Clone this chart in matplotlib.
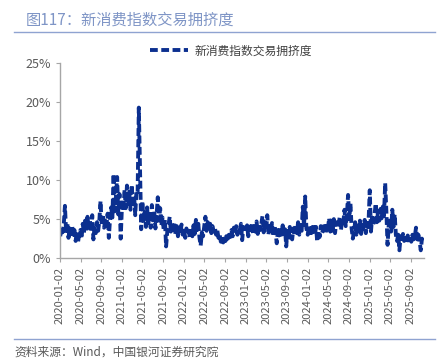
import matplotlib
matplotlib.use("Agg")
import matplotlib.pyplot as plt
from matplotlib.ticker import FuncFormatter
import pandas as pd

plt.rcParams["font.family"] = ["Noto Sans CJK SC", "DejaVu Sans"]

title = "图117：新消费指数交易拥挤度"
series_name = "新消费指数交易拥挤度"
source = "资料来源：Wind，中国银河证券研究院"

# weekly readings (%), per year; months grouped 4,4,5 weeks
v2020 = [2.8, 3.9, 3.3, 4.3,
         6.7, 3.2, 4.5, 2.6,
         3.8, 2.7, 4.2, 3.0, 3.6,
         2.2, 3.4, 2.0, 3.1,
         3.6, 2.5, 4.4, 3.2,
         4.8, 3.5, 5.3, 3.9, 4.9,
         3.4, 5.5, 2.4, 4.1,
         3.2, 4.6, 3.5, 4.8,
         7.3, 4.2, 5.6, 3.9, 4.8,
         4.1, 5.7, 2.6, 5.0,
         6.5, 5.2, 10.8, 6.0,
         7.8, 10.4, 5.6, 8.2, 2.5]
v2021 = [7.5, 6.0, 8.8, 6.4,
         9.3, 7.0, 8.5, 6.2,
         9.4, 6.5, 8.0, 5.5, 8.7,
         8.5, 19.3, 11.3, 3.7,
         7.3, 4.5, 6.2, 4.0,
         6.5, 4.2, 5.9, 3.9, 6.8,
         4.5, 6.0, 3.8, 5.5,
         7.8, 4.8, 6.4, 4.2,
         5.2, 3.6, 4.9, 1.5, 3.4,
         4.2, 5.3, 3.4, 4.6,
         3.2, 4.5, 3.0, 4.1,
         2.8, 3.9, 3.1, 4.3, 3.0]
v2022 = [3.5, 2.6, 3.8, 3.0,
         3.4, 2.5, 3.9, 2.8,
         4.2, 3.1, 4.9, 3.6, 4.4,
         2.6, 1.6, 3.3, 2.8,
         4.0, 5.3, 3.5, 4.6,
         3.6, 4.4, 3.2, 4.1, 3.4,
         3.9, 3.0, 3.6, 2.6,
         3.0, 2.1, 2.7, 2.0,
         2.6, 2.2, 3.2, 2.5, 3.3,
         2.7, 3.6, 2.8, 3.9,
         3.1, 4.1, 3.0, 3.8,
         3.6, 4.4, 2.3, 4.0, 3.4]
v2023 = [3.3, 4.2, 2.8, 4.0,
         3.2, 4.5, 3.0, 4.1,
         3.4, 4.7, 3.1, 4.3, 3.6,
         4.4, 5.4, 3.3, 4.6,
         3.5, 5.5, 3.0, 4.4,
         3.2, 4.5, 2.8, 4.2, 3.4,
         1.9, 3.6, 2.9, 4.0,
         3.0, 4.2, 3.1, 3.7,
         1.5, 3.5, 2.6, 4.0, 3.2,
         2.4, 3.8, 2.9, 4.3,
         3.2, 4.6, 3.0, 4.2,
         3.5, 6.6, 4.0, 7.9, 3.8]
v2024 = [3.0, 4.2, 2.8, 3.9,
         3.3, 4.4, 3.0, 4.0,
         2.1, 3.5, 2.7, 4.1, 3.2,
         3.6, 4.5, 3.1, 4.3,
         3.8, 5.1, 3.4, 4.8,
         3.5, 5.0, 3.2, 4.6, 3.9,
         4.3, 5.3, 3.6, 4.9,
         4.6, 6.2, 4.1, 5.5,
         8.1, 5.0, 7.0, 3.8, 2.5,
         3.5, 4.6, 3.0, 4.2,
         3.4, 4.8, 3.1, 4.3,
         3.8, 4.9, 3.2, 4.5, 3.6]
v2025 = [8.7, 3.4, 5.2, 4.3,
         5.5, 7.0, 4.6, 6.0,
         4.8, 6.3, 5.1, 6.6, 5.4,
         9.6, 6.0, 1.7, 4.3,
         5.2, 3.4, 6.2, 4.0,
         5.6, 3.0, 2.2, 3.0, 1.0,
         2.8, 2.0, 3.1, 2.2,
         2.6, 2.0, 2.9, 2.3,
         2.5, 2.1, 3.0, 2.4, 2.8,
         3.9, 2.4, 3.0, 2.2, 1.0,
         2.5, 2.0]

tick_labels = ["2020-01-02", "2020-05-02", "2020-09-02", "2021-01-02",
               "2021-05-02", "2021-09-02", "2022-01-02", "2022-05-02",
               "2022-09-02", "2023-01-02", "2023-05-02", "2023-09-02",
               "2024-01-02", "2024-05-02", "2024-09-02", "2025-01-02",
               "2025-05-02", "2025-09-02"]

years = {2020: v2020, 2021: v2021, 2022: v2022, 2023: v2023, 2024: v2024, 2025: v2025}
dates, vals = [], []
for yr, v in years.items():
    dates.extend(pd.date_range(f"{yr}-01-03", periods=len(v), freq="7D"))
    vals.extend(v)
vals = [x / 100 for x in vals]

fig = plt.figure(figsize=(4.48, 3.63), dpi=100)
ax = fig.add_axes([0.134, 0.289, 0.812, 0.537])

line_color = "#0b2f8f"
ax.plot(dates, vals, color=line_color, lw=2.8, ls=(0, (2.0, 0.9)),
        label=series_name)

ax.set_ylim(0, 0.25)
ax.set_yticks([0, 0.05, 0.10, 0.15, 0.20, 0.25])
ax.yaxis.set_major_formatter(FuncFormatter(lambda y, _: f"{y * 100:.0f}%"))
ticks = pd.to_datetime(tick_labels)
ax.set_xticks(ticks)
ax.set_xticklabels(tick_labels, rotation=90)
ax.set_xlim(pd.Timestamp("2020-01-02"), pd.Timestamp("2025-11-18"))

for s in ["top", "right"]:
    ax.spines[s].set_visible(False)
for s in ["left", "bottom"]:
    ax.spines[s].set_color("#a6a6a6")
    ax.spines[s].set_linewidth(1.0)
ax.tick_params(colors="#a6a6a6", length=3, width=0.8)
ax.tick_params(axis="y", labelcolor="#595959", labelsize=9)
ax.tick_params(axis="x", labelcolor="#595959", labelsize=8)

leg = ax.legend(loc="lower center", bbox_to_anchor=(0.47, 1.0), frameon=False,
                fontsize=8.5, handlelength=3.2, handletextpad=0.5,
                borderaxespad=0.1)
for t in leg.get_texts():
    t.set_color("#404040")

fig.text(26 / 448, 1 - 20 / 363, title, fontsize=11, color="#7f95c6",
         fontweight="light", va="center", ha="left")
fig.add_artist(plt.Line2D([14 / 448, 435 / 448], [1 - 32 / 363] * 2,
                          color="#8fa3d1", lw=1.0))
fig.add_artist(plt.Line2D([14 / 448, 435 / 448], [1 - 339 / 363] * 2,
                          color="#8fa3d1", lw=1.0))
fig.text(14 / 448, 1 - 352 / 363, source, fontsize=8.5, color="#595959",
         style="italic", fontweight="light", va="center", ha="left")

fig.savefig("out.png", dpi=100)
